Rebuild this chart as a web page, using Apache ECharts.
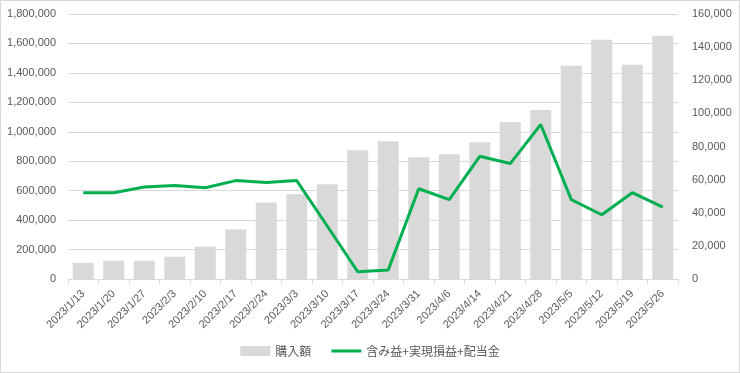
<!DOCTYPE html>
<html>
<head>
<meta charset="utf-8">
<script src="https://cdn.jsdelivr.net/npm/echarts@6/dist/echarts.min.js"></script>
<style>
html,body{margin:0;padding:0;background:#fff;}
#c{width:738px;height:371px;border:1px solid #D9D9D9;}
</style>
</head>
<body>
<div id="c"></div>
<script>
const categories = ["2023/1/13","2023/1/20","2023/1/27","2023/2/3","2023/2/10","2023/2/17","2023/2/24","2023/3/3","2023/3/10","2023/3/17","2023/3/24","2023/3/31","2023/4/6","2023/4/14","2023/4/21","2023/4/28","2023/5/5","2023/5/12","2023/5/19","2023/5/26"];
const purchase = [110000,125000,125000,152000,220000,336000,520000,575000,643000,875000,936000,827000,848000,929000,1066000,1148000,1448000,1625000,1455000,1652000];
const profit = [52100,52100,55500,56500,55100,59400,58200,59400,32000,4400,5500,54500,47900,74100,69700,93300,47900,38800,52100,43400];
const seriesNames = ["購入額","含み益+実現損益+配当金"];

const chart = echarts.init(document.getElementById('c'));
const labelFont = {color:'#595959', fontSize:11, fontFamily:'"Liberation Sans", Arial, sans-serif'};
chart.setOption({
  animation:false,
  grid:{left:67, right:61, top:13, bottom:93, containLabel:false},
  legend:{
    bottom:10, left:'center', itemGap:20, itemWidth:30, itemHeight:10,
    textStyle:{color:'#595959', fontSize:12, fontFamily:'"Noto Sans CJK JP", sans-serif'},
    data:[{name:seriesNames[0], icon:'rect'},
          {name:seriesNames[1], icon:'path://M0,0 L30,0 L30,3 L0,3 Z', itemStyle:{color:'#00B050'}}]
  },
  xAxis:{
    type:'category', data:categories, boundaryGap:true,
    axisLine:{lineStyle:{color:'#D9D9D9'}},
    axisTick:{show:true, alignWithLabel:false, length:5, lineStyle:{color:'#D9D9D9'}},
    axisLabel:Object.assign({rotate:45, interval:0, margin:13}, labelFont)
  },
  yAxis:[
    {type:'value', min:0, max:1800000, interval:200000,
     axisLine:{show:false}, axisTick:{show:false},
     splitLine:{lineStyle:{color:'#D9D9D9'}},
     axisLabel:Object.assign({margin:12, formatter:v=>v.toLocaleString('en-US')}, labelFont)},
    {type:'value', min:0, max:160000, interval:20000,
     axisLine:{show:false}, axisTick:{show:false}, splitLine:{show:false},
     axisLabel:Object.assign({margin:14, formatter:v=>v.toLocaleString('en-US')}, labelFont)}
  ],
  series:[
    {name:seriesNames[0], type:'bar', data:purchase, yAxisIndex:0, barWidth:21,
     itemStyle:{color:'#D9D9D9'}},
    {name:seriesNames[1], type:'line', data:profit, yAxisIndex:1, symbol:'none',
     lineStyle:{color:'#00B050', width:3}, itemStyle:{color:'#00B050'}}
  ]
});
</script>
</body>
</html>
